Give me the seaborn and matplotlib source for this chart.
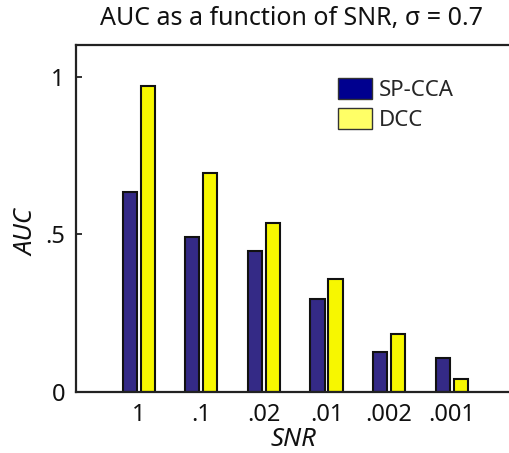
import matplotlib
matplotlib.use("Agg")
import matplotlib.pyplot as plt
import matplotlib.patches as mpatches
import seaborn as sns
import pandas as pd

snr_labels = ["1", ".1", ".02", ".01", ".002", ".001"]
sp_cca = [0.635, 0.490, 0.448, 0.295, 0.127, 0.108]
dcc = [0.970, 0.695, 0.536, 0.359, 0.184, 0.041]
methods = ["SP-CCA", "DCC"]
y_ticks = [0, 0.5, 1]
y_ticklabels = ["0", ".5", "1"]

df = pd.DataFrame({
    "SNR": snr_labels * 2,
    "AUC": sp_cca + dcc,
    "Method": [methods[0]] * len(snr_labels) + [methods[1]] * len(snr_labels),
})

sns.set_theme(style="white")
plt.rcParams["font.family"] = ["Noto Sans", "DejaVu Sans"]

bar_colors = {"SP-CCA": "#342a86", "DCC": "#f7f700"}
legend_colors = {"SP-CCA": "#00008f", "DCC": "#ffff66"}

fig = plt.figure(figsize=(5.09, 4.53), dpi=100)
ax = fig.add_axes([76 / 509, 61 / 453, 434 / 509, 347 / 453])

sns.barplot(data=df, x="SNR", y="AUC", hue="Method", order=snr_labels,
            hue_order=methods, palette=bar_colors, saturation=1,
            width=0.576, gap=0.22,
            edgecolor="#111111", linewidth=1.5, ax=ax, legend=False)

ax.set_xlim(-1.0, 5.93)
ax.set_ylim(0, 1.10)
ax.set_yticks(y_ticks)
ax.set_yticklabels(y_ticklabels)

ax.spines["right"].set_visible(False)
for s in ["left", "bottom", "top"]:
    ax.spines[s].set_color("#222222")
    ax.spines[s].set_linewidth(1.6)

ax.tick_params(axis="y", direction="in", length=4, width=1.3, color="#222222",
               labelsize=17, pad=8, left=True, labelcolor="#111111")
ax.tick_params(axis="x", length=0, labelsize=17, pad=8, labelcolor="#111111")

ax.set_xlabel("")
ax.set_ylabel("")
fig.text(293 / 509, 1 - 440 / 453, "SNR", fontsize=18.5, fontstyle="italic",
         color="#111111", ha="center", va="center")
fig.text(27 / 509, 1 - 233 / 453, "AUC", fontsize=18.5, fontstyle="italic",
         color="#111111", ha="center", va="center", rotation=90)

fig.text(292 / 509, 1 - 19 / 453, "AUC as a function of SNR, σ = 0.7",
         ha="center", va="center", fontsize=18, color="#111111")

handles = [mpatches.Patch(facecolor=legend_colors[m], edgecolor="#333333",
                          linewidth=1.0, label=m) for m in methods]
fig.legend(handles=handles, loc="upper left",
           bbox_to_anchor=(338 / 509, 1 - 78 / 453), frameon=False,
           borderpad=0, borderaxespad=0, handlelength=1.55, handleheight=1.08,
           handletextpad=0.27, labelspacing=0.32, fontsize=16)

fig.savefig("out.png", dpi=100)
